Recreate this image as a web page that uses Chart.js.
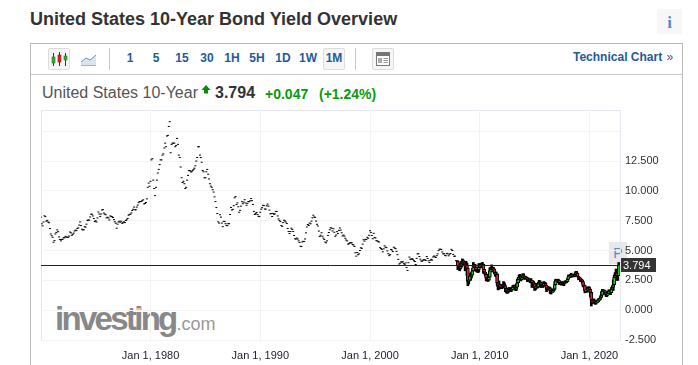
<!DOCTYPE html>
<html>
<head>
<meta charset="utf-8">
<script src="https://cdn.jsdelivr.net/npm/chart.js@4/dist/chart.umd.min.js"></script>
<style>
html, body { margin: 0; padding: 0; background: #fff; overflow: hidden; }
body { width: 698px; height: 365px; position: relative; font-family: "Liberation Sans", Arial, sans-serif; }
.abs { position: absolute; white-space: nowrap; }
.tf { position: absolute; top: 50px; font-size: 12px; line-height: 16px; font-weight: bold; color: #1f5a9e; transform: translateX(-50%); }
.btn { position: absolute; top: 48px; width: 20px; height: 20px; background: #f6f6f6; border: 1px solid #ddd; border-radius: 2px; }
#c { position: absolute; left: 0; top: 0; }
</style>
</head>
<body>
<div class="abs" style="left:30px;top:9px;font-size:18px;line-height:20px;font-weight:bold;color:#333">United States 10-Year Bond Yield Overview</div>
<div class="abs" style="left:657px;top:9px;width:25px;height:25px;background:#f7f7f7;color:#5b8cc0;font:bold 17px/27px 'Liberation Serif',serif;text-align:center">i</div>

<div class="abs" style="left:30px;top:43px;width:651px;height:330px;border:1px solid #bbb"></div>
<div class="abs" style="left:31px;top:74px;width:651px;height:1px;background:#c8c8c8"></div>
<div class="abs" style="left:109px;top:48px;width:1px;height:22px;background:#c8c8c8"></div>
<div class="abs" style="left:355px;top:48px;width:1px;height:22px;background:#c8c8c8"></div>

<div class="btn" style="left:48px"></div>
<svg class="abs" style="left:50px;top:50px" width="18" height="18">
  <path d="M3.5 3v13M9.5 2v14M15.5 3v13" stroke="#333" stroke-width="1"/>
  <rect x="2" y="7" width="3" height="6" fill="#2ea82e" stroke="#2a7a2a" stroke-width=".6"/>
  <rect x="8" y="5" width="3" height="7" fill="#e02020" stroke="#8a1a1a" stroke-width=".6"/>
  <rect x="14" y="6" width="3" height="4" fill="#2ea82e" stroke="#2a7a2a" stroke-width=".6"/>
</svg>
<svg class="abs" style="left:80px;top:52px" width="18" height="14">
  <path d="M1 10L6 6L10 8L16 3V13H1Z" fill="#dbe3ef"/>
  <path d="M1 10L6 6L10 8L16 3" fill="none" stroke="#6f8fbc" stroke-width="1"/>
  <path d="M1 13.5H16" stroke="#9fb3d0" stroke-width="1"/>
</svg>

<div class="tf" style="left:130px">1</div>
<div class="tf" style="left:156px">5</div>
<div class="tf" style="left:182px">15</div>
<div class="tf" style="left:207px">30</div>
<div class="tf" style="left:232px">1H</div>
<div class="tf" style="left:257px">5H</div>
<div class="tf" style="left:283px">1D</div>
<div class="tf" style="left:308px">1W</div>
<div class="btn" style="left:323px"></div>
<div class="tf" style="left:334px">1M</div>

<div class="btn" style="left:372px"></div>
<svg class="abs" style="left:376px;top:52px" width="14" height="14">
  <rect x=".5" y=".5" width="13" height="13" fill="#fff" stroke="#777"/>
  <rect x="1" y="1" width="12" height="3" fill="#777"/>
  <rect x="2" y="6" width="4" height="5" fill="#aaa"/>
  <path d="M7.5 6.5H12M7.5 8.5H12M7.5 10.5H12" stroke="#999" stroke-width="1"/>
</svg>
<div class="abs" style="left:573px;top:49px;font-size:12px;line-height:16px;font-weight:bold;color:#1f5a9e">Technical Chart&nbsp;<span style="font-weight:normal;margin-left:1px">»</span></div>

<div class="abs" style="left:42px;top:83px;font-size:16px;line-height:20px;color:#555">United States 10-Year</div>
<svg class="abs" style="left:201px;top:85px" width="10" height="10"><path d="M5 0L9.5 5H7V8.5H3V5H.5Z" fill="#0a8a0a"/></svg>
<div class="abs" style="left:215px;top:83px;font-size:16px;line-height:20px;font-weight:bold;color:#333">3.794</div>
<div class="abs" style="left:265px;top:85px;font-size:14px;line-height:18px;font-weight:bold;color:#0a9a0a">+0.047</div>
<div class="abs" style="left:319px;top:85px;font-size:14px;line-height:18px;font-weight:bold;color:#0a9a0a">(+1.24%)</div>

<div class="abs" style="left:55px;top:297px;font-size:33px;line-height:44px;font-weight:bold;letter-spacing:-2.7px;color:#888">investing<span style="font-size:18px;font-weight:normal;letter-spacing:0;color:#999;margin-left:1px">.com</span></div>
<div class="abs" style="left:137px;top:308px;width:5px;height:2px;background:#f3c078"></div>
<div class="abs" style="left:609px;top:242px;width:18px;height:22px;background:#e8e8e8;color:#4f8fd0;font-size:14px;line-height:22px;text-align:center">P</div>

<canvas id="c" width="698" height="365"></canvas>

<script>
const firstYear = 1970;
// month closes, one row per year, drawn as small dashes
const dashCloses = [
  7.79,7.24,7.07,7.39,7.91,7.84,7.46,7.53,7.39,7.33,6.84,6.39,
  6.24,6.11,5.70,5.83,6.39,6.52,6.73,6.58,6.14,5.93,5.81,5.93,
  5.95,6.08,6.07,6.19,6.13,6.11,6.11,6.21,6.55,6.48,6.28,6.36,
  6.46,6.64,6.71,6.67,6.85,6.90,7.13,7.40,7.09,6.79,6.73,6.74,
  6.99,6.96,7.21,7.51,7.58,7.54,7.81,8.04,8.04,7.90,7.68,7.43,
  7.50,7.39,7.73,8.23,8.06,7.86,8.06,8.40,8.43,8.14,8.05,8.00,
  7.74,7.79,7.73,7.56,7.90,7.86,7.83,7.77,7.59,7.41,7.29,6.87,
  7.21,7.39,7.46,7.37,7.46,7.28,7.33,7.40,7.34,7.52,7.58,7.69,
  7.96,8.03,8.04,8.15,8.35,8.46,8.64,8.41,8.42,8.64,8.81,9.01,
  9.10,9.10,9.12,9.18,9.25,8.91,8.95,9.03,9.33,10.30,10.65,10.39,
  10.80,12.60,12.70,10.90,10.20,9.60,10.30,10.90,11.50,11.80,12.20,12.60,
  12.60,13.00,13.10,13.60,14.00,13.70,14.60,14.65,15.40,15.80,13.20,13.90,
  14.00,14.00,14.00,13.70,13.80,14.40,13.90,13.00,12.80,12.00,11.10,10.70,
  10.80,10.60,10.20,10.30,10.90,11.30,11.70,11.70,11.60,11.60,11.70,11.80,
  11.90,12.10,12.50,12.80,13.70,13.70,13.00,12.80,12.40,11.70,11.60,11.10,
  11.10,11.60,11.80,11.40,11.00,10.60,10.40,10.30,10.10,9.90,9.50,9.10,
  8.60,8.10,7.40,7.30,8.00,7.80,7.30,7.00,7.45,7.43,7.25,7.11,
  7.08,7.25,7.25,8.02,8.61,8.40,8.45,8.76,9.42,9.52,8.86,8.99,
  8.67,8.21,8.37,8.72,9.09,8.92,9.06,9.26,8.98,8.80,8.96,9.11,
  9.09,9.17,9.36,9.18,8.86,8.28,8.02,8.11,8.19,8.01,7.87,7.84,
  8.21,8.47,8.59,8.79,8.76,8.48,8.47,8.75,8.89,8.72,8.39,8.08,
  8.09,7.85,8.11,8.04,8.07,8.28,8.27,7.90,7.65,7.53,7.42,7.09,
  7.03,7.34,7.54,7.48,7.39,7.26,6.84,6.59,6.42,6.59,6.87,6.77,
  6.60,6.26,5.98,5.97,6.04,5.96,5.81,5.68,5.36,5.33,5.72,5.77,
  5.75,5.97,6.48,6.97,7.18,7.10,7.30,7.24,7.46,7.74,7.96,7.81,
  7.78,7.47,7.20,7.06,6.63,6.17,6.28,6.49,6.20,6.04,5.93,5.71,
  5.65,5.81,6.27,6.51,6.74,6.91,6.87,6.64,6.83,6.53,6.20,6.30,
  6.58,6.42,6.69,6.89,6.71,6.49,6.22,6.30,6.21,6.03,5.88,5.81,
  5.54,5.57,5.65,5.64,5.65,5.50,5.46,5.34,4.81,4.53,4.83,4.65,
  4.72,5.00,5.23,5.18,5.54,5.90,5.79,5.94,5.92,6.11,6.03,6.28,
  6.66,6.52,6.26,5.99,6.44,6.10,6.05,5.83,5.80,5.74,5.72,5.24,
  5.16,5.10,4.89,5.14,5.39,5.28,5.24,4.97,4.73,4.57,4.65,5.09,
  5.04,4.91,5.28,5.21,5.16,4.93,4.65,4.26,3.87,3.94,4.05,4.03,
  4.05,3.90,3.81,3.96,3.57,3.33,3.98,4.45,4.27,4.29,4.30,4.27,
  4.15,4.08,3.83,4.35,4.72,4.73,4.50,4.28,4.13,4.10,4.19,4.23,
  4.22,4.17,4.50,4.34,4.14,4.00,4.18,4.26,4.20,4.46,4.54,4.47,
  4.42,4.57,4.72,4.99,5.11,5.11,5.09,4.88,4.72,4.73,4.60,4.56,
  4.76,4.72,4.56,4.69,4.75,5.10,5.00,4.67,4.52,4.53,4.15,4.10
];
// the later months show as real candles, open is the previous close
const candleCloses = [
  3.74,3.74,3.51,3.68,3.88,4.10,4.01,3.89,3.69,3.81,3.53,2.42,
  2.52,2.87,2.82,2.93,3.29,3.72,3.56,3.59,3.40,3.39,3.40,3.59,
  3.73,3.69,3.73,3.85,3.42,3.20,3.01,2.70,2.65,2.54,2.76,3.29,
  3.39,3.58,3.41,3.46,3.17,3.00,3.00,2.30,1.98,2.15,2.01,1.98,
  1.97,1.97,2.17,2.05,1.80,1.62,1.53,1.68,1.72,1.75,1.65,1.72,
  1.91,1.98,1.96,1.76,1.93,2.30,2.58,2.74,2.81,2.62,2.72,2.90,
  2.86,2.71,2.72,2.71,2.56,2.60,2.54,2.42,2.53,2.30,2.33,2.21,
  1.88,1.98,2.04,1.94,2.20,2.36,2.32,2.17,2.17,2.07,2.26,2.24,
  2.09,1.78,1.89,1.81,1.81,1.64,1.50,1.56,1.63,1.76,2.14,2.49,
  2.43,2.42,2.48,2.30,2.30,2.19,2.32,2.21,2.20,2.36,2.35,2.40,
  2.58,2.86,2.84,2.87,2.98,2.91,2.89,2.89,3.00,3.15,3.12,2.83,
  2.71,2.68,2.57,2.53,2.40,2.07,2.06,1.63,1.70,1.71,1.81,1.86,
  1.76,1.50,0.87,0.66,0.67,0.73,0.62,0.65,0.68,0.79,0.87,0.93,
  1.08,1.26,1.61,1.64,1.62,1.52,1.32,1.28,1.37,1.58,1.56,1.47,
  1.76,1.93,2.13,2.75,2.90,3.14,2.90,2.90,3.794
];
const candleHighs = [
  4.15,3.98,3.80,3.90,4.10,4.30,4.20,4.10,4.05,4.10,3.95,3.20,
  2.95,3.10,3.05,3.20,3.50,4.00,3.75,3.85,3.60,3.60,3.55,3.90,
  3.90,3.80,3.95,4.00,3.75,3.40,3.15,3.05,2.80,2.75,3.00,3.55,
  3.60,3.80,3.60,3.60,3.40,3.20,3.20,3.05,2.40,2.45,2.20,2.15,
  2.10,2.10,2.40,2.30,2.05,1.80,1.70,1.85,1.90,1.90,1.80,1.85,
  2.05,2.10,2.10,1.95,2.20,2.60,2.75,2.95,3.00,2.75,2.85,3.05,
  3.05,2.80,2.85,2.80,2.70,2.70,2.65,2.55,2.65,2.50,2.45,2.40,
  2.20,2.15,2.25,2.05,2.35,2.50,2.45,2.30,2.30,2.20,2.40,2.35,
  2.30,2.00,2.00,1.95,1.95,1.90,1.60,1.65,1.75,1.85,2.40,2.60,
  2.55,2.55,2.60,2.45,2.40,2.30,2.40,2.35,2.35,2.45,2.45,2.50,
  2.70,2.95,2.95,3.00,3.10,3.00,3.00,3.00,3.10,3.25,3.25,3.05,
  2.80,2.75,2.70,2.60,2.55,2.25,2.15,2.05,1.90,1.85,1.95,1.95,
  1.95,1.70,1.25,0.80,0.75,0.95,0.75,0.80,0.75,0.88,0.98,0.98,
  1.20,1.55,1.75,1.70,1.70,1.62,1.50,1.37,1.56,1.70,1.70,1.55,
  1.90,2.05,2.55,2.95,3.15,3.45,3.10,3.25,4.00
];
const candleLows = [
  3.40,3.45,3.30,3.45,3.60,3.90,3.85,3.75,3.30,3.40,2.90,2.05,
  2.20,2.65,2.50,2.70,3.10,3.40,3.30,3.40,3.25,3.20,3.15,3.20,
  3.55,3.55,3.60,3.65,3.10,3.05,2.85,2.45,2.50,2.40,2.50,2.80,
  3.25,3.35,3.20,3.25,3.05,2.85,2.80,2.10,1.70,1.75,1.85,1.80,
  1.80,1.85,1.90,1.90,1.55,1.45,1.40,1.45,1.55,1.60,1.55,1.60,
  1.75,1.85,1.80,1.65,1.65,2.05,2.30,2.55,2.55,2.45,2.55,2.70,
  2.60,2.60,2.60,2.60,2.40,2.40,2.45,2.30,2.35,1.90,2.25,2.05,
  1.65,1.70,1.85,1.85,1.90,2.10,2.15,1.90,2.00,1.90,2.10,2.10,
  1.95,1.55,1.70,1.70,1.70,1.40,1.35,1.50,1.50,1.60,1.75,2.30,
  2.30,2.30,2.35,2.15,2.20,2.10,2.25,2.10,2.05,2.30,2.30,2.30,
  2.40,2.70,2.75,2.75,2.75,2.80,2.80,2.80,2.80,3.05,3.00,2.80,
  2.55,2.60,2.40,2.45,2.25,1.95,1.95,1.45,1.50,1.50,1.70,1.75,
  1.50,1.10,0.35,0.55,0.60,0.62,0.50,0.50,0.60,0.65,0.72,0.82,
  0.90,1.05,1.35,1.50,1.45,1.35,1.15,1.13,1.25,1.40,1.35,1.30,
  1.50,1.70,1.65,2.30,2.65,2.75,2.50,2.50,3.10
];
const lastPrice = 3.794;
const xMin = 1970.02;
const xMax = 2022.78;
const yMin = -2.5;
const yMax = 16.78;

const monthToYear = (i) => firstYear + i / 12;

const dashPoints = dashCloses.map((v, i) => ({ x: monthToYear(i), y: v }));

const candlePoints = candleCloses.map((v, i) => {
  const open = i === 0 ? dashCloses[dashCloses.length - 1] : candleCloses[i - 1];
  return { x: monthToYear(dashCloses.length + i), y: [open, v], up: v >= open };
});

const wickPoints = candleHighs.map((v, i) => ({
  x: monthToYear(dashCloses.length + i),
  y: [candleLows[i], v]
}));

// frame around the plot, the last price line and its dark tag on the axis
const framePlugin = {
  id: 'frame',
  beforeDraw(chart) {
    const { ctx, chartArea: a } = chart;
    ctx.save();
    ctx.strokeStyle = '#e6e6ee';
    ctx.lineWidth = 1;
    ctx.strokeRect(a.left + 0.5, a.top + 0.5, a.width, a.height);
    ctx.restore();
  },
  afterDraw(chart) {
    const { ctx, chartArea: a } = chart;
    const y = Math.round(chart.scales.y.getPixelForValue(lastPrice));
    ctx.save();
    ctx.strokeStyle = '#222';
    ctx.lineWidth = 1;
    ctx.beginPath();
    ctx.moveTo(a.left, y + 0.5);
    ctx.lineTo(a.right, y + 0.5);
    ctx.stroke();
    ctx.fillStyle = '#333';
    ctx.fillRect(a.right + 1, y - 7, 35, 14);
    ctx.fillStyle = '#fff';
    ctx.font = '11px "Liberation Sans", Arial, sans-serif';
    ctx.textBaseline = 'middle';
    ctx.fillText(lastPrice.toFixed(3), a.right + 3, y + 0.5);
    ctx.restore();
  }
};

new Chart(document.getElementById('c').getContext('2d'), {
  type: 'bar',
  data: {
    datasets: [
      {
        type: 'line',
        data: dashPoints,
        showLine: false,
        pointStyle: 'line',
        pointRadius: 1,
        pointBorderWidth: 1,
        pointBorderColor: '#000',
        order: 3
      },
      {
        type: 'bar',
        data: wickPoints,
        grouped: false,
        barThickness: 2,
        borderWidth: 0,
        backgroundColor: '#000',
        order: 2
      },
      {
        type: 'bar',
        data: candlePoints,
        grouped: false,
        barThickness: 3,
        borderSkipped: false,
        borderWidth: 1,
        borderColor: '#000',
        backgroundColor: candlePoints.map(p => p.up ? '#22c022' : '#e0202a'),
        order: 1
      }
    ]
  },
  plugins: [framePlugin],
  options: {
    responsive: false,
    animation: false,
    layout: { padding: { left: 41, top: 110, right: 0, bottom: 0 } },
    plugins: { legend: { display: false }, tooltip: { enabled: false } },
    scales: {
      x: {
        type: 'linear',
        min: xMin,
        max: xMax,
        offset: false,
        grid: { color: '#f3f3f5', offset: false, drawTicks: false },
        border: { display: false },
        afterFit(scale) { scale.height = 25; },
        ticks: {
          stepSize: 10,
          includeBounds: false,
          autoSkip: false,
          maxRotation: 0,
          padding: 9,
          color: '#223',
          font: { family: '"Liberation Sans", Arial, sans-serif', size: 11 },
          callback: (v) => 'Jan 1, ' + v
        }
      },
      y: {
        position: 'right',
        min: yMin,
        max: yMax,
        grid: { color: '#f3f3f5', drawTicks: false },
        border: { display: false },
        afterFit(scale) { scale.width = 78; },
        ticks: {
          stepSize: 2.5,
          includeBounds: false,
          padding: 5,
          color: '#333',
          font: { family: '"Liberation Sans", Arial, sans-serif', size: 11 },
          callback: (v) => v > 13 ? '' : v.toFixed(3)
        }
      }
    }
  }
});
</script>
</body>
</html>
